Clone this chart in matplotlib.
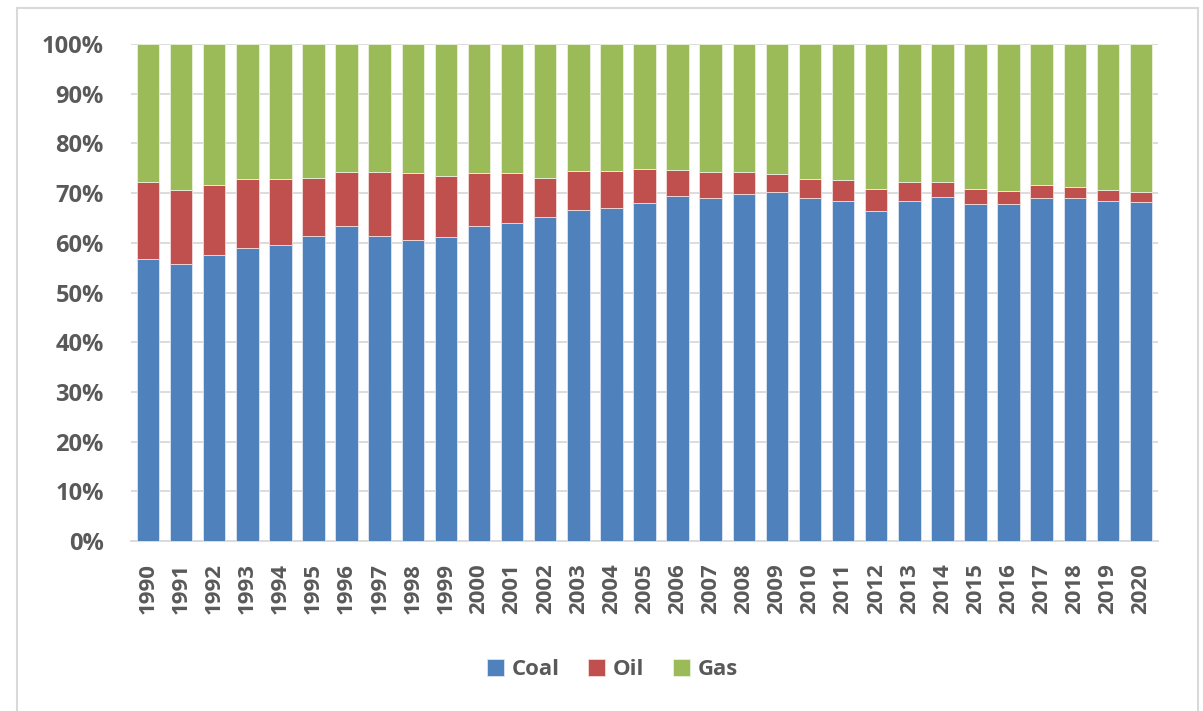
import matplotlib.pyplot as plt
from matplotlib.patches import Rectangle
from matplotlib.ticker import PercentFormatter

plt.rcParams['font.family'] = ['Open Sans', 'DejaVu Sans']

years = [str(y) for y in range(1990, 2021)]

# coal share and coal+oil cumulative share (%)
coal = [56.8, 55.7, 57.6, 59.0, 59.6, 61.4, 63.4, 61.4, 60.6, 61.1,
        63.4, 63.9, 65.1, 66.7, 67.0, 68.0, 69.5, 69.1, 69.9, 70.2,
        69.1, 68.5, 66.5, 68.5, 69.2, 67.9, 67.8, 69.1, 69.0, 68.5, 68.3]
coal_oil = [72.2, 70.6, 71.6, 72.8, 72.8, 73.1, 74.2, 74.2, 74.0, 73.4,
            74.1, 74.0, 73.0, 74.4, 74.4, 74.8, 74.6, 74.2, 74.2, 73.8,
            72.8, 72.6, 70.8, 72.2, 72.3, 70.8, 70.5, 71.6, 71.2, 70.6, 70.2]
oil = [co - c for co, c in zip(coal_oil, coal)]
gas = [100 - co for co in coal_oil]

c_coal, c_oil, c_gas = "#4F81BD", "#C0504D", "#9BBB59"
txt = "#595959"

fig = plt.figure(figsize=(12.03, 7.11), dpi=100)
ax = fig.add_axes([0.1093, 0.2391, 0.8529, 0.699])

x = range(len(years))
w = 0.68
ax.bar(x, coal, w, color=c_coal, edgecolor="#DCE6F2", linewidth=0.6, label="Coal", zorder=3)
ax.bar(x, oil, w, bottom=coal, color=c_oil, edgecolor="#F2DCDB", linewidth=0.6, label="Oil", zorder=3)
ax.bar(x, gas, w, bottom=coal_oil, color=c_gas, edgecolor="#EBF1DE", linewidth=0.6, label="Gas", zorder=3)

ax.set_xlim(-0.5, len(years) - 0.5)
ax.set_ylim(0, 100)
ax.set_yticks(range(0, 101, 10))
ax.yaxis.set_major_formatter(PercentFormatter(decimals=0))
ax.set_xticks(list(x))
ax.set_xticklabels(years, rotation=90)
ax.grid(axis="y", color="#D9D9D9", linewidth=1.3, zorder=0)
for s in ["top", "right", "left"]:
    ax.spines[s].set_visible(False)
ax.spines["bottom"].set_color("#D9D9D9")
ax.spines["bottom"].set_linewidth(1.3)
ax.tick_params(axis="both", length=0, colors=txt, labelsize=16)
ax.tick_params(axis="y", pad=20, labelsize=17)
ax.tick_params(axis="x", pad=16)
for lbl in ax.get_xticklabels() + ax.get_yticklabels():
    lbl.set_fontweight("bold")

ax.legend(loc="center", bbox_to_anchor=(0.509, 0.058), bbox_transform=fig.transFigure,
          ncol=3, frameon=False, handlelength=0.75, handleheight=0.75,
          handletextpad=0.35, columnspacing=1.3,
          prop={"weight": "bold", "size": 16}, labelcolor=txt)

# outer chart border (bottom edge runs off the image)
fig.patches.append(Rectangle((17 / 1203, -5 / 711), 1181 / 1203, 708 / 711,
                             transform=fig.transFigure, fill=False,
                             edgecolor="#D9D9D9", linewidth=1.5))

fig.savefig("out.png", dpi=100)
